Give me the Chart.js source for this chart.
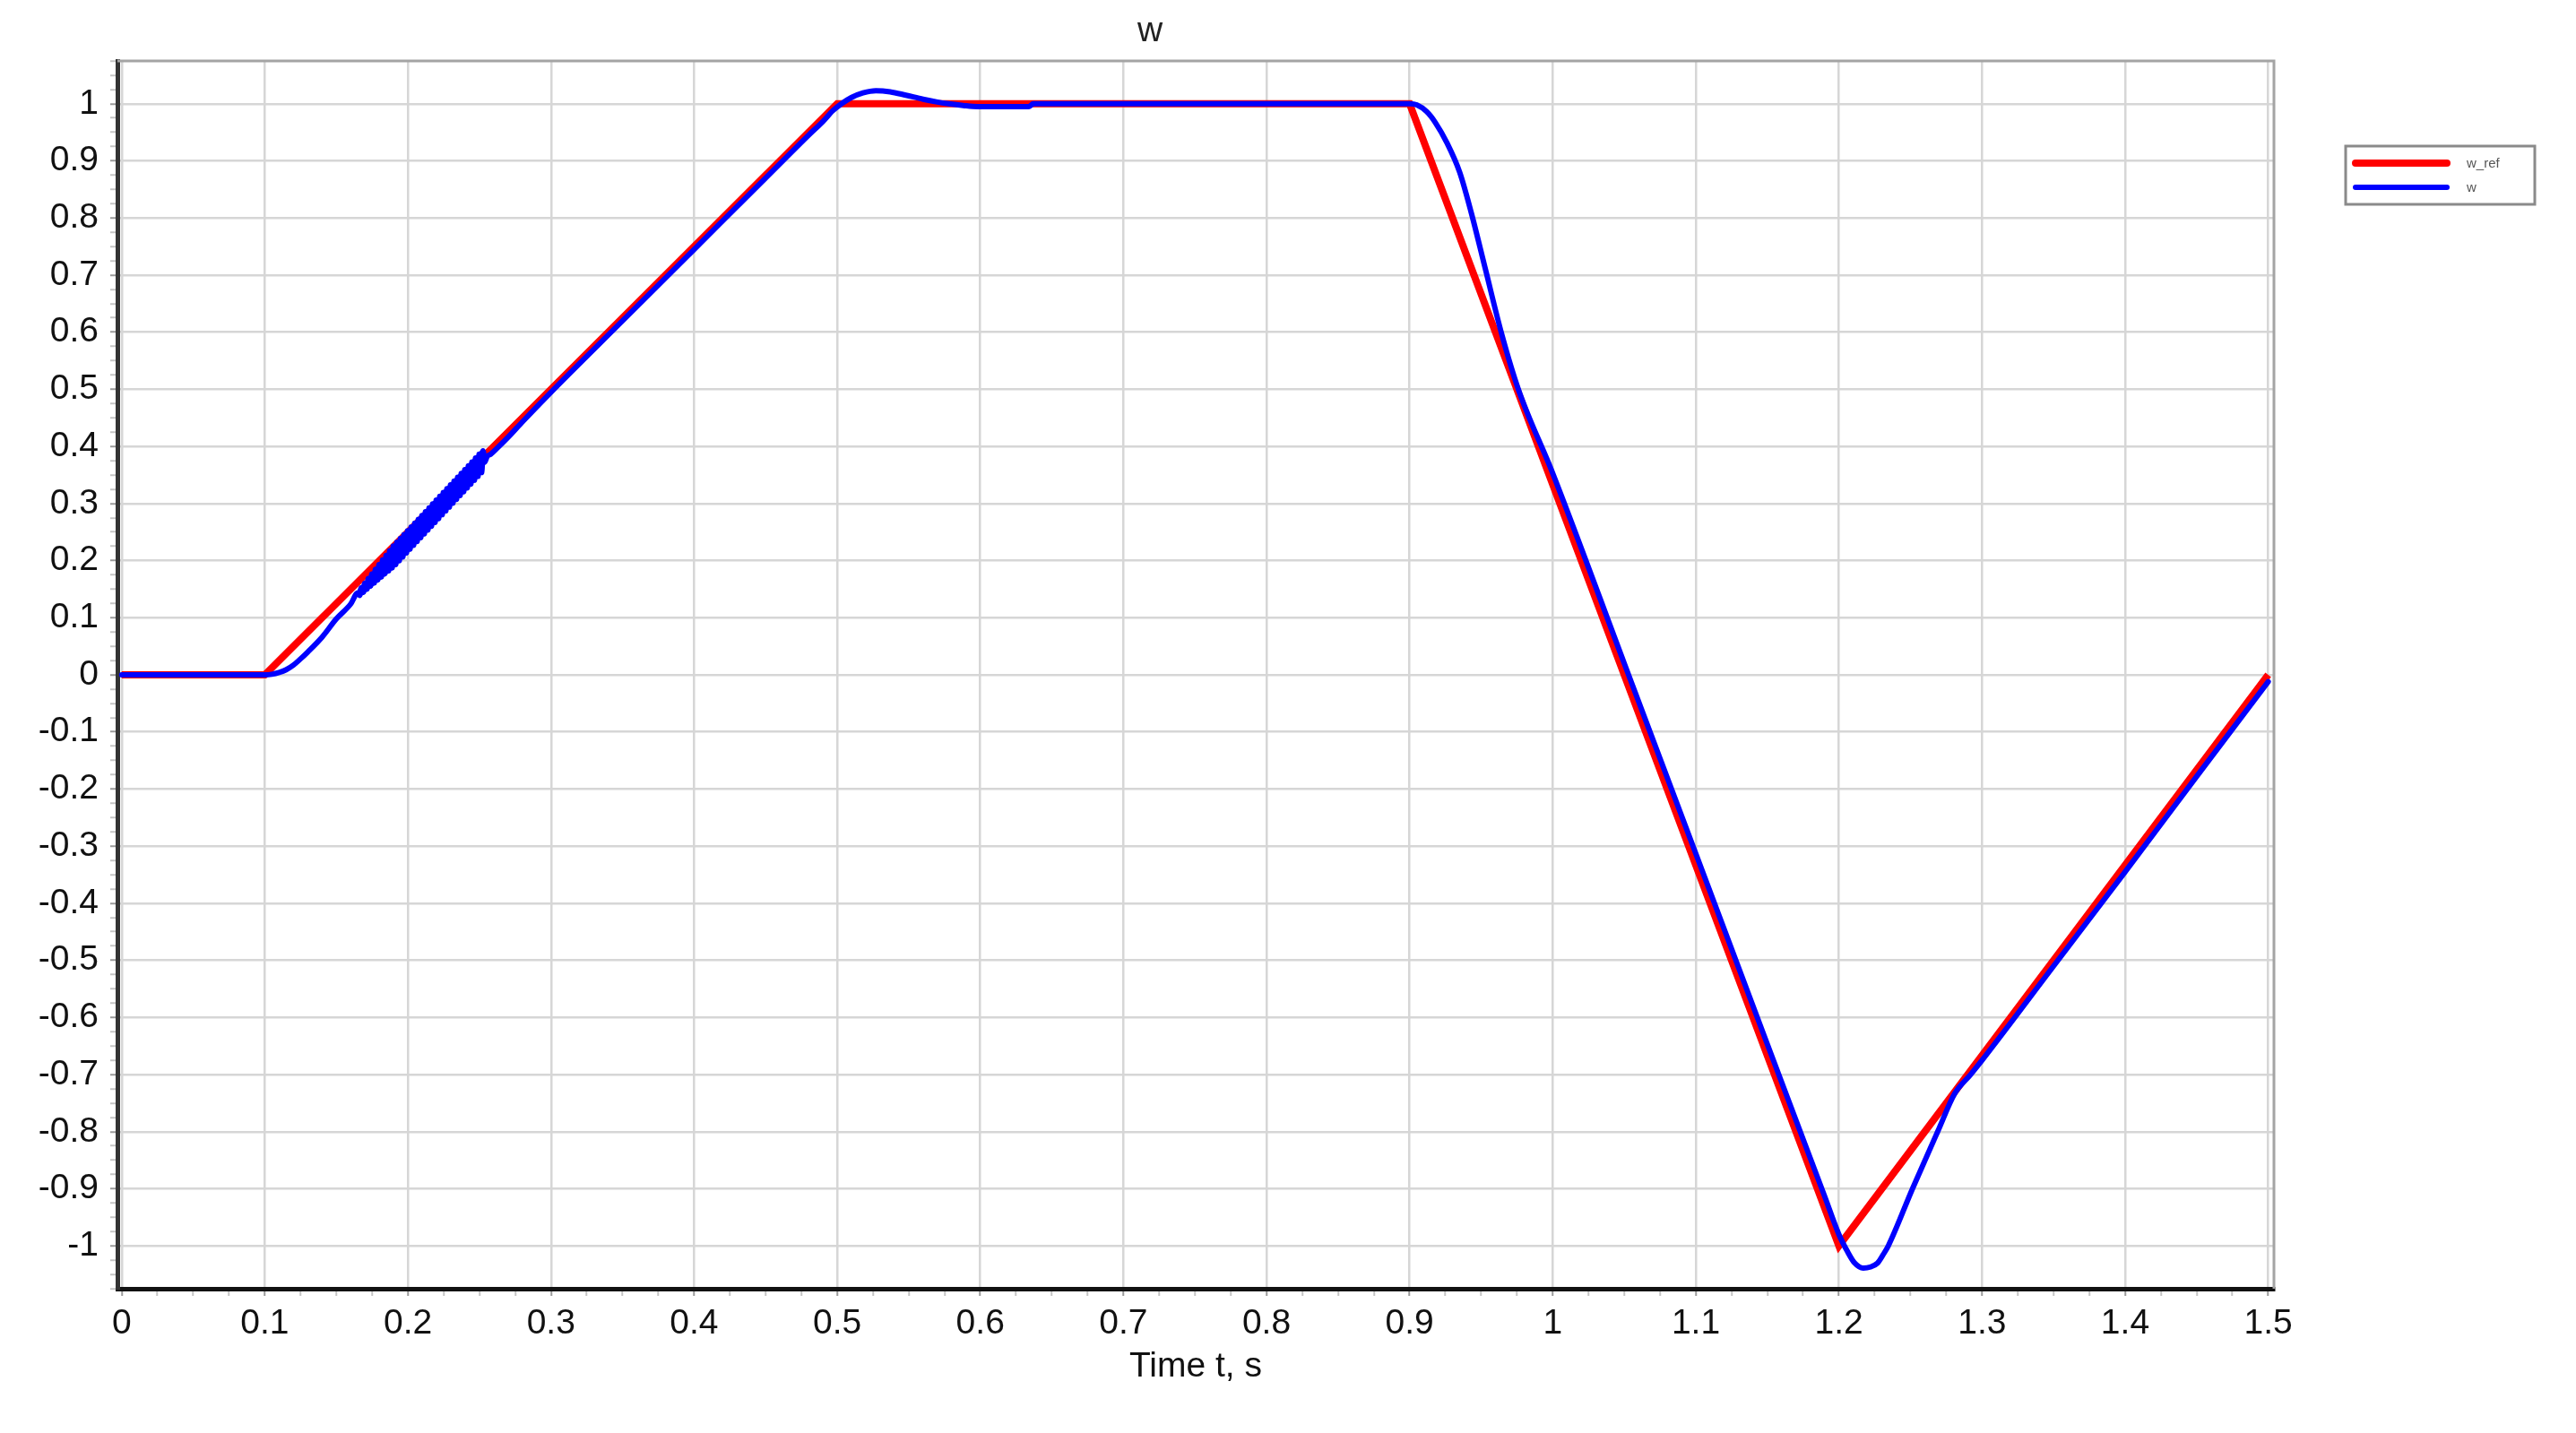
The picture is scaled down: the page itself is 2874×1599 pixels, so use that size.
<!DOCTYPE html>
<html>
<head>
<meta charset="utf-8">
<title>w</title>
<script src="https://cdn.jsdelivr.net/npm/chart.js@4.4.1/dist/chart.umd.min.js"></script>
<style>
  html, body { margin: 0; padding: 0; background: #fff; }
  canvas { display: block; }
</style>
</head>
<body>
<canvas id="chart" width="2874" height="1599"></canvas>
<script>
// reference speed w_ref
const tRef = [0, 0.1, 0.5, 0.9, 1.2, 1.5];
const wRef = [0, 0, 1, 1, -1, 0];

// measured speed w, start-up part
const tStart = [0, 0.1, 0.105, 0.11, 0.115, 0.12, 0.125, 0.13, 0.14, 0.15, 0.16];
const wStart = [0, 0, 0.001, 0.004, 0.009, 0.017, 0.028, 0.04, 0.066, 0.098, 0.124];

// ripple band between ~0.165 s and 0.2525 s (one sample every 1.25 ms)
const tRipple = [
  0.165, 0.16625, 0.1675, 0.16875, 0.17, 0.17125, 0.1725, 0.17375, 0.175, 0.17625,
  0.1775, 0.17875, 0.18, 0.18125, 0.1825, 0.18375, 0.185, 0.18625, 0.1875, 0.18875,
  0.19, 0.19125, 0.1925, 0.19375, 0.195, 0.19625, 0.1975, 0.19875, 0.2, 0.20125,
  0.2025, 0.20375, 0.205, 0.20625, 0.2075, 0.20875, 0.21, 0.21125, 0.2125, 0.21375,
  0.215, 0.21625, 0.2175, 0.21875, 0.22, 0.22125, 0.2225, 0.22375, 0.225, 0.22625,
  0.2275, 0.22875, 0.23, 0.23125, 0.2325, 0.23375, 0.235, 0.23625, 0.2375, 0.23875,
  0.24, 0.24125, 0.2425, 0.24375, 0.245, 0.24625, 0.2475, 0.24875, 0.25, 0.25125,
  0.2525
];
const wRipple = [
  0.1435, 0.1402, 0.1516, 0.1455, 0.1597, 0.1508, 0.1678, 0.1561, 0.1759, 0.1614,
  0.184, 0.1667, 0.1921, 0.172, 0.2003, 0.1773, 0.2084, 0.1826, 0.2165, 0.1879,
  0.2246, 0.1939, 0.2313, 0.2006, 0.238, 0.2073, 0.2447, 0.2141, 0.2514, 0.2208,
  0.2581, 0.2275, 0.2648, 0.2342, 0.2715, 0.2409, 0.2782, 0.2476, 0.2849, 0.2543,
  0.2916, 0.261, 0.2984, 0.2677, 0.3051, 0.2744, 0.3118, 0.2811, 0.3185, 0.2878,
  0.3252, 0.2945, 0.3319, 0.3012, 0.3386, 0.308, 0.3453, 0.3147, 0.352, 0.3214,
  0.3587, 0.3281, 0.3654, 0.3348, 0.3721, 0.3415, 0.3788, 0.3482, 0.3855, 0.3549,
  0.3923
];

// rest of w: ramp, overshoot, plateau, fall, undershoot, rise
const tRest = [
  0.2535, 0.2555, 0.2577, 0.262, 0.27, 0.28, 0.3, 0.35, 0.4, 0.45, 0.48, 0.49, 0.497,
  0.503, 0.51, 0.518, 0.527, 0.537, 0.548, 0.56, 0.57, 0.578, 0.588, 0.598,
  0.634, 0.637, 0.9, 0.905, 0.912, 0.918, 0.926, 0.935, 0.943, 0.953, 0.964,
  0.976, 1.0, 1.05, 1.1, 1.15, 1.19, 1.2, 1.206, 1.211, 1.217, 1.222, 1.227,
  1.231, 1.2345, 1.2514, 1.269, 1.281, 1.292, 1.3, 1.35, 1.4, 1.45, 1.5
];
const wRest = [
  0.372, 0.383, 0.386, 0.396, 0.416, 0.443, 0.495, 0.62, 0.745, 0.87, 0.945, 0.969, 0.988,
  1.0, 1.011, 1.019, 1.023, 1.021, 1.015, 1.008, 1.003, 1.0, 0.997, 0.995,
  0.995, 1.0, 1.0, 0.998, 0.986, 0.967, 0.932, 0.88, 0.81, 0.71, 0.6,
  0.5, 0.353, 0.02, -0.313, -0.647, -0.913, -0.98, -1.01, -1.03, -1.039, -1.037, -1.03,
  -1.015, -1.0, -0.9, -0.8, -0.733, -0.7, -0.675, -0.51, -0.345, -0.178, -0.012
];

const tW = tStart.concat(tRipple, tRest);
const wVals = wStart.concat(wRipple, wRest);

const xTicks = [0, 0.1, 0.2, 0.3, 0.4, 0.5, 0.6, 0.7, 0.8, 0.9, 1, 1.1, 1.2, 1.3, 1.4, 1.5];
const yTicks = [-1, -0.9, -0.8, -0.7, -0.6, -0.5, -0.4, -0.3, -0.2, -0.1, 0, 0.1, 0.2, 0.3, 0.4, 0.5, 0.6, 0.7, 0.8, 0.9, 1];

const isMajor = (list, v) => list.some(m => Math.abs(m - v) < 1e-6);

// major ticks plus three minor ticks between them
function withMinors(list, extra) {
  const out = [];
  const lo = Math.round(list[0] * 40) - extra;
  const hi = Math.round(list[list.length - 1] * 40) + extra;
  for (let i = lo; i <= hi; i++) out.push({ value: i / 40 });
  return out;
}

Chart.defaults.font.family = '"Liberation Sans", Arial, sans-serif';
Chart.defaults.color = '#111';

const frame = {
  id: 'frame',
  beforeDatasetsDraw(chart) {
    const { ctx, chartArea: a } = chart;
    ctx.save();
    ctx.strokeStyle = '#a4a4a4';
    ctx.lineWidth = 3;
    ctx.beginPath();
    ctx.moveTo(a.left, a.top);
    ctx.lineTo(a.right, a.top);
    ctx.lineTo(a.right, a.bottom);
    ctx.stroke();
    ctx.restore();
  },
  afterDraw(chart) {
    const { ctx } = chart;
    ctx.save();
    // title
    ctx.fillStyle = '#222';
    ctx.font = '39px "Liberation Sans", Arial, sans-serif';
    ctx.textAlign = 'center';
    ctx.textBaseline = 'middle';
    ctx.fillText('w', 1283, 35);

    // legend box (w_ref first, then w)
    ctx.fillStyle = '#fff';
    ctx.fillRect(2617, 163, 211, 65);
    ctx.strokeStyle = '#8a8a8a';
    ctx.lineWidth = 3;
    ctx.strokeRect(2617, 163, 211, 65);
    const ref = chart.data.datasets[2];
    const meas = chart.data.datasets[0];
    const items = [
      { label: ref.label, color: ref.borderColor, w: 8, y: 182 },
      { label: meas.label, color: meas.borderColor, w: 6, y: 209 }
    ];
    ctx.textAlign = 'left';
    ctx.font = '15px "Liberation Sans", Arial, sans-serif';
    items.forEach(it => {
      ctx.strokeStyle = it.color;
      ctx.lineWidth = it.w;
      ctx.lineCap = 'round';
      ctx.beginPath();
      ctx.moveTo(2628, it.y);
      ctx.lineTo(2730, it.y);
      ctx.stroke();
      ctx.fillStyle = '#555';
      ctx.fillText(it.label, 2752, it.y + 1);
    });
    ctx.restore();
  }
};

new Chart(document.getElementById('chart'), {
  type: 'line',
  data: {
    datasets: [
      {
        label: 'w',
        data: tW.map((t, i) => ({ x: t, y: wVals[i] })),
        borderColor: '#0000ff',
        borderWidth: 6,
        pointRadius: 0,
        cubicInterpolationMode: 'monotone',
        borderJoinStyle: 'round',
        borderCapStyle: 'round',
        order: 1
      },
      {
        // the ripple drawn again with straight segments so the band is solid
        label: 'w ripple',
        data: tRipple.map((t, i) => ({ x: t, y: wRipple[i] })),
        borderColor: '#0000ff',
        borderWidth: 7,
        pointRadius: 0,
        tension: 0,
        borderJoinStyle: 'round',
        order: 0
      },
      {
        label: 'w_ref',
        data: tRef.map((t, i) => ({ x: t, y: wRef[i] })),
        borderColor: '#ff0000',
        borderWidth: 8,
        pointRadius: 0,
        tension: 0,
        order: 2
      }
    ]
  },
  options: {
    responsive: false,
    animation: false,
    devicePixelRatio: 1,
    layout: { padding: { top: 68, right: 337, bottom: 0, left: 0 } },
    plugins: {
      legend: { display: false },
      title: { display: false },
      tooltip: { enabled: false }
    },
    scales: {
      x: {
        type: 'linear',
        min: -0.003,
        max: 1.504,
        afterBuildTicks: axis => { axis.ticks = withMinors(xTicks, 0); },
        afterFit: scale => { scale.height = 161; },
        ticks: {
          autoSkip: false,
          maxRotation: 0,
          padding: 8,
          font: { size: 39 },
          color: '#111',
          callback: v => isMajor(xTicks, v) ? String(Math.round(v * 10) / 10) : ''
        },
        grid: {
          color: c => c.tick && isMajor(xTicks, c.tick.value) ? '#d6d6d6' : 'rgba(0,0,0,0)',
          lineWidth: 2.5,
          tickLength: 8,
          tickColor: c => c.tick && isMajor(xTicks, c.tick.value) ? '#9a9a9a' : '#c4c4c4',
          tickWidth: 2
        },
        border: { display: true, color: '#111', width: 5 },
        title: {
          display: true,
          text: 'Time t, s',
          font: { size: 39 },
          color: '#111',
          padding: { top: 0, bottom: 50 }
        }
      },
      y: {
        type: 'linear',
        min: -1.075,
        max: 1.075,
        afterBuildTicks: axis => { axis.ticks = withMinors(yTicks, 3); },
        afterFit: scale => { scale.width = 131; },
        ticks: {
          autoSkip: false,
          padding: 13,
          font: { size: 39 },
          color: '#111',
          callback: v => isMajor(yTicks, v) ? String(Math.round(v * 10) / 10) : ''
        },
        grid: {
          color: c => c.tick && isMajor(yTicks, c.tick.value) ? '#d6d6d6' : 'rgba(0,0,0,0)',
          lineWidth: 2.5,
          tickLength: 8,
          tickColor: c => c.tick && isMajor(yTicks, c.tick.value) ? '#9a9a9a' : '#c4c4c4',
          tickWidth: 2
        },
        border: { display: true, color: '#333', width: 5 }
      }
    }
  },
  plugins: [frame]
});
</script>
</body>
</html>
